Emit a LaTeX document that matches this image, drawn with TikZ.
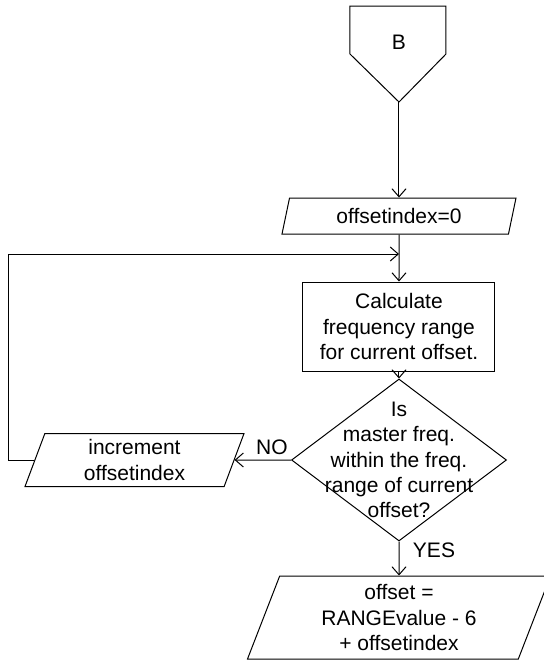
\documentclass[tikz,border=0pt]{standalone}
\usepackage{fontspec}
\setmainfont{Liberation Sans}
\usetikzlibrary{shapes.geometric,arrows.meta}

\begin{document}
\begin{tikzpicture}[x=0.5pt, y=-0.5pt, line width=0.5pt,
        >={Straight Barb[length=4pt,width=7pt]},
        every node/.style={font=\fontsize{10.5}{12.65}\selectfont},
        io/.style={draw, trapezium, trapezium left angle=64, trapezium right angle=116,
            trapezium stretches body, inner sep=0pt, align=center},
        proc/.style={draw, rectangle, inner sep=0pt, align=center},
        decision/.style={draw, diamond, inner sep=0pt, minimum width=107.5pt, minimum height=81pt}]
        \useasboundingbox (0,0) rectangle (544,661);
        % off-page connector
        \draw (350,6) -- (446,6) -- (446,54) -- (399,102) -- (350,54) -- cycle;
        \node (B) at (399,42) {B};
        \coordinate (Btip) at (399,102);
        \node[io, minimum width=117pt, minimum height=18pt] (init) at (399,216) {offsetindex=0};
        \coordinate (loopin) at (399,254);
        \coordinate (loopcorner) at (9,254);
        \node[proc, minimum width=96pt, minimum height=44.5pt] (calc) at (399,326.5)
            {Calculate\\frequency range\\for current offset.};
        \node[decision, label={[align=center]center:Is\\master freq.\\within the freq.\\range of current\\offset?}]
            (test) at (399,460) {};
        \node[io, minimum width=109.5pt, minimum height=26.5pt] (incr) at (134.5,460)
            {increment\\offsetindex};
        \node[io, minimum width=151.5pt, minimum height=41.5pt] (result) at (399,617.5)
            {offset =\\RANGEvalue - 6\\+ offsetindex};
        \node (no) at (272,447) {NO};
        \node (yes) at (434,550) {YES};
        % flow
        \draw[->] (Btip) -- (init);
        \draw[->] (init) -- (calc);
        \draw[->] (calc) -- (test);
        \draw[->] (test) -- (incr);
        \draw[->] (incr) -| (loopcorner) -- (loopin);
        \draw[->] (test) -- (result);
\end{tikzpicture}
\end{document}
